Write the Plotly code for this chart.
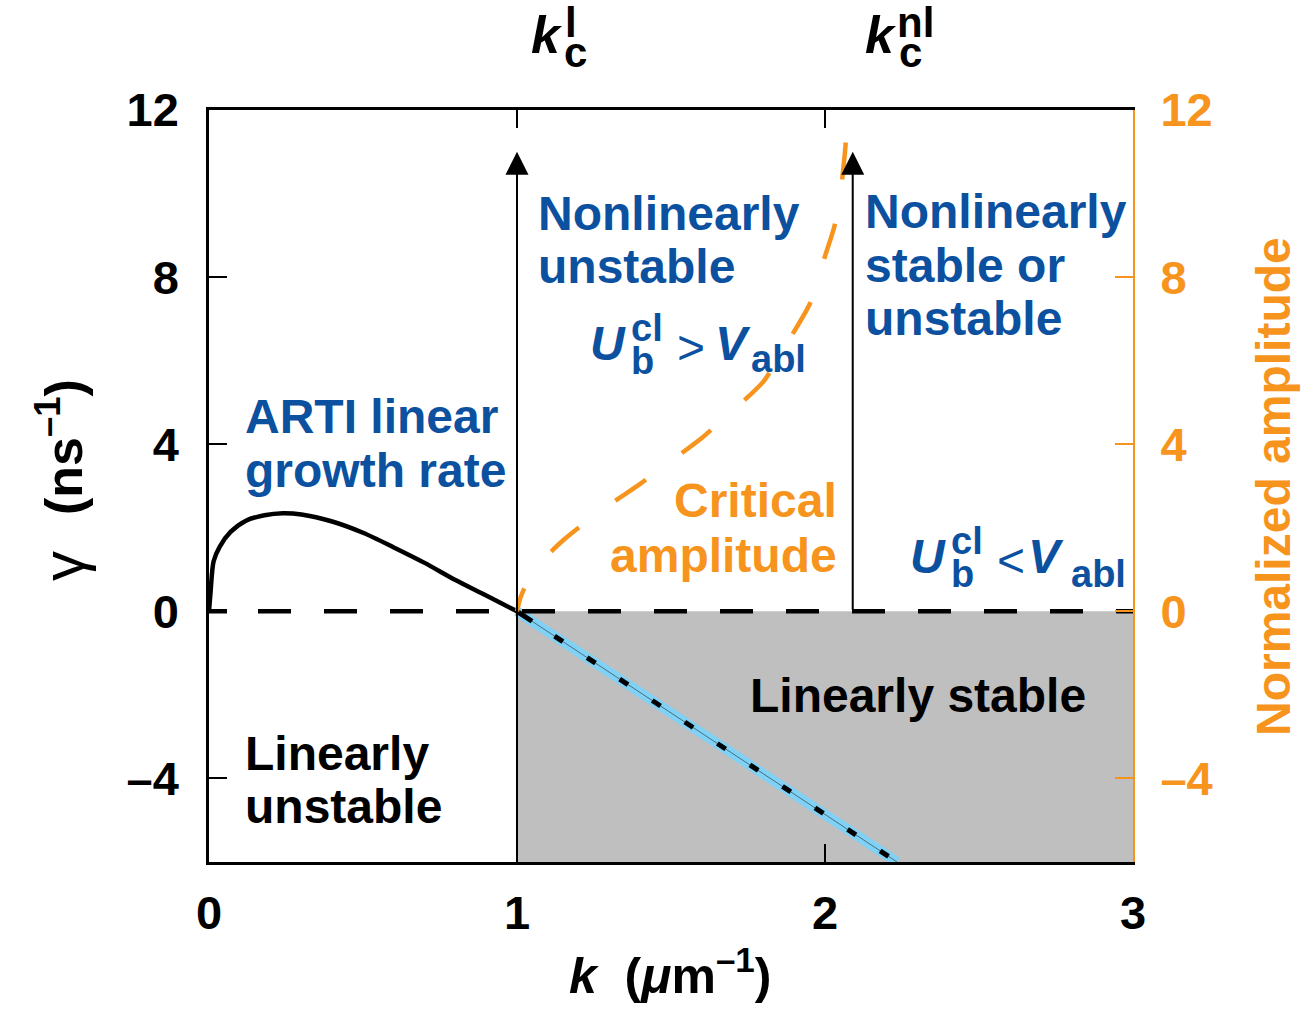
import plotly.graph_objects as go

# ---------------- data ----------------
k_growth = [0, 0.005, 0.015, 0.035, 0.07, 0.12, 0.18, 0.24, 0.3, 0.4, 0.5, 0.6, 0.7, 0.8, 0.9, 1.0]
gamma_growth = [0, 0.45, 1.2, 1.55, 1.9, 2.17, 2.3, 2.35, 2.32, 2.15, 1.88, 1.53, 1.16, 0.75, 0.38, 0]

k_damped = [1.0, 2.234]
gamma_damped = [0, -6]

k_crit = [1.0, 1.01, 1.03, 1.06, 1.1, 1.15, 1.2, 1.3, 1.4, 1.5, 1.6, 1.7, 1.8, 1.9, 1.95, 2.0, 2.03, 2.05, 2.065, 2.075, 2.085]
amp_crit = [0, 0.3, 0.65, 1.0, 1.35, 1.7, 2.0, 2.55, 3.05, 3.6, 4.15, 4.8, 5.5, 6.7, 7.35, 8.5, 9.2, 10.0, 11.0, 12.0, 13.0]

zero_k = [0, 3]
zero_gamma = [0, 0]

k_c_linear = 1.0
k_c_nonlinear = 2.09
arrow_top = 11.0

stable_k = [1.0, 3.0]
stable_gamma = [-6, 0]

k_range = [0, 3]
gamma_range = [-6, 12]
tick_k = [0, 1, 2, 3]
tick_k_text = ["0", "1", "2", "3"]
tick_gamma = [-4, 0, 4, 8, 12]
tick_gamma_text = ["\u20134", "0", "4", "8", "12"]

# ---------------- style ----------------
BLUE = '#0c50a0'
ORANGE = '#f7941d'
CYAN = '#7fd1f5'
GRAY = '#bfbfbf'
FONT = 'Liberation Sans'
TS = 48  # region text size

W, H = 1309, 1018
ML, MR, MT, MB = 209, 176, 110, 156
PW = W - ML - MR
PH = H - MT - MB


def px(x):
    return (x - ML) / PW


def py(y):
    return (H - MB - y) / PH


def dash_pattern(first, gap0, dash, gap, n):
    parts = [f"{first}px", f"{gap0}px"]
    for _ in range(n):
        parts += [f"{dash}px", f"{gap}px"]
    return ",".join(parts)


fig = go.Figure()

# growth rate curve
fig.add_trace(go.Scatter(x=k_growth, y=gamma_growth, mode='lines',
                         line=dict(color='black', width=4.5, shape='spline', smoothing=0.8),
                         hoverinfo='skip'))
# damped continuation: cyan band with black dashes
fig.add_trace(go.Scatter(x=k_damped, y=gamma_damped, mode='lines',
                         line=dict(color=CYAN, width=10), hoverinfo='skip'))
fig.add_trace(go.Scatter(x=k_damped, y=gamma_damped, mode='lines',
                         line=dict(color='#3a5560', width=0.8), hoverinfo='skip'))
fig.add_trace(go.Scatter(x=k_damped, y=gamma_damped, mode='lines',
                         line=dict(color='black', width=5, dash=dash_pattern(18, 27, 10, 29, 14)),
                         hoverinfo='skip'))
# zero dashed line
fig.add_trace(go.Scatter(x=zero_k, y=zero_gamma, mode='lines',
                         line=dict(color='black', width=4.5, dash=dash_pattern(18, 31, 33, 33, 15)),
                         hoverinfo='skip'))
# critical amplitude (right axis)
fig.add_trace(go.Scatter(x=k_crit, y=amp_crit, mode='lines', yaxis='y2',
                         line=dict(color=ORANGE, width=4.5, shape='spline', smoothing=0.6,
                                   dash=dash_pattern(24, 46, 37, 45, 14)),
                         hoverinfo='skip'))

# gray linearly stable region
fig.add_shape(type='rect', xref='x', yref='y', x0=stable_k[0], x1=stable_k[1],
              y0=stable_gamma[0], y1=stable_gamma[1], fillcolor=GRAY, line=dict(width=0),
              layer='below')

annotations = []

# arrows
for kk, base in [(k_c_linear, gamma_range[0]), (k_c_nonlinear, 0)]:
    annotations.append(dict(x=kk, y=arrow_top, ax=kk, ay=base, xref='x', yref='y',
                            axref='x', ayref='y', text='', showarrow=True,
                            arrowhead=2, arrowsize=2.3, arrowwidth=2, arrowcolor='black',
                            standoff=0, startstandoff=0))


def txt(s, x, y, size=TS, color='black', xanchor='left', yanchor='middle', angle=0, bold=True):
    return dict(text=s, x=px(x), y=py(y), xref='paper', yref='paper',
                xanchor=xanchor, yanchor=yanchor, showarrow=False, textangle=angle,
                font=dict(family=FONT, size=size, color=color,
                          weight='bold' if bold else 'normal'))


# region labels
annotations += [
    txt("ARTI linear", 243, 416, color=BLUE),
    txt("growth rate", 243, 471, color=BLUE),
    txt("Linearly", 243, 753),
    txt("unstable", 243, 806),
    txt("Nonlinearly", 536, 213, color=BLUE),
    txt("unstable", 536, 266, color=BLUE),
    txt("Nonlinearly", 863, 211, color=BLUE),
    txt("stable or", 863, 265, color=BLUE),
    txt("unstable", 863, 318, color=BLUE),
    txt("Critical", 839, 501, color=ORANGE, xanchor='right'),
    txt("amplitude", 839, 555, color=ORANGE, xanchor='right'),
    txt("Linearly stable", 748, 695),
]

# U_b^cl > V_abl
annotations += [
    txt("<i>U</i>", 588, 343, size=48, color=BLUE),
    txt("cl", 629, 328, size=38, color=BLUE),
    txt("b", 629, 361, size=38, color=BLUE),
    txt(">", 691, 347, size=48, color=BLUE, xanchor='center', bold=False),
    txt("<i>V</i>", 713, 343, size=48, color=BLUE),
    txt("abl", 749, 359, size=38, color=BLUE),
]
# U_b^cl < V_abl
annotations += [
    txt("<i>U</i>", 908, 556, size=48, color=BLUE),
    txt("cl", 949, 541, size=38, color=BLUE),
    txt("b", 949, 574, size=38, color=BLUE),
    txt("<", 1011, 560, size=48, color=BLUE, xanchor='center', bold=False),
    txt("<i>V</i>", 1026, 556, size=48, color=BLUE),
    txt("abl", 1069, 574, size=38, color=BLUE),
]
# top labels k_c^l, k_c^nl
annotations += [
    txt("<i>k</i>", 529, 35, size=52),
    txt("l", 563, 22, size=42),
    txt("c", 562, 53, size=42),
    txt("<i>k</i>", 863, 35, size=52),
    txt("nl", 895, 22, size=42),
    txt("c", 897, 53, size=42),
]
# axis titles
annotations += [
    txt("<i>k</i>  (<i>\u03bc</i>m<sup>\u20131</sup>)", 670, 1006, size=50,
        xanchor='center', yanchor='bottom'),
    txt("\u03b3", 63, 566, size=60, xanchor='center', angle=-90, bold=False),
    txt("(ns<sup>\u20131</sup>)", 60, 447, size=52, xanchor='center', angle=-90),
    txt("Normalized amplitude", 1273, 487, color=ORANGE, xanchor='center', angle=-90),
]

tickfont_black = dict(family=FONT, size=47, color='black', weight='bold')
tickfont_orange = dict(family=FONT, size=47, color=ORANGE, weight='bold')

fig.update_layout(
    width=W, height=H, autosize=False,
    margin=dict(l=ML, r=MR, t=MT, b=MB, pad=0),
    paper_bgcolor='white', plot_bgcolor='white', showlegend=False,
    xaxis=dict(range=k_range, tickvals=tick_k, ticktext=tick_k_text, ticks='inside',
               ticklen=18, tickwidth=2, tickcolor='black', showline=True, linewidth=2.5,
               linecolor='black', mirror='ticks', showgrid=False, zeroline=False,
               tickfont=tickfont_black, ticklabelstandoff=8),
    yaxis=dict(range=gamma_range, tickvals=tick_gamma, ticktext=tick_gamma_text,
               ticks='inside', ticklen=18, tickwidth=2, tickcolor='black', showline=True,
               linewidth=2.5, linecolor='black', mirror=False, showgrid=False,
               zeroline=False, tickfont=tickfont_black, ticklabelstandoff=18),
    yaxis2=dict(range=gamma_range, overlaying='y', side='right', tickvals=tick_gamma,
                ticktext=tick_gamma_text, ticks='inside', ticklen=18, tickwidth=2,
                tickcolor=ORANGE, showline=True, linewidth=2, linecolor=ORANGE,
                showgrid=False, zeroline=False, tickfont=tickfont_orange,
                ticklabelstandoff=16),
    annotations=annotations,
)

fig.write_html("out.html")
